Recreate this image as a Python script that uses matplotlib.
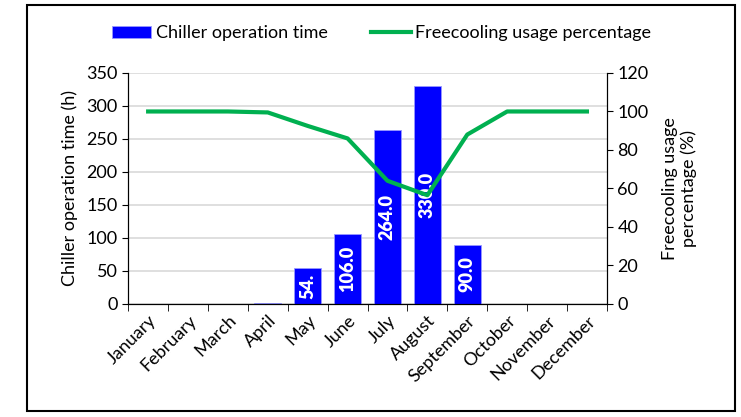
import numpy as np
import matplotlib; matplotlib.use("Agg")
import matplotlib.pyplot as plt
from matplotlib.patches import Rectangle

months = ["January", "February", "March", "April", "May", "June", "July",
          "August", "September", "October", "November", "December"]
chiller_h = [0, 0, 0, 2, 54, 106, 264, 330, 90, 0, 0, 0]
freecool_pct = [100, 100, 100, 99.5, 92.5, 86, 64, 56.5, 88, 100, 100, 100]
bar_labels = ["", "", "", "", "54.", "106.0", "264.0", "330.0", "90.0", "", "", ""]

plt.rcParams["font.family"] = ["Lato", "DejaVu Sans"]
FS = 13

fig = plt.figure(figsize=(7.41, 4.17), dpi=100)
ax = fig.add_axes([0.173, 0.271, 0.646, 0.554])
x = np.arange(len(months))

ax.set_axisbelow(True)
ax.yaxis.grid(True, color="#d9d9d9", lw=1.2)
bars = ax.bar(x, chiller_h, width=0.68, color="#0000ff", edgecolor="#9999ff", lw=0.6,
              label="Chiller operation time", zorder=2)
for xi, v, lab in zip(x, chiller_h, bar_labels):
    if lab:
        ax.text(xi, v / 2, lab, rotation=90, ha="center", va="center", color="white",
                fontsize=FS, fontweight="heavy", zorder=3)

ax.set_xlim(-0.5, 11.5)
ax.set_ylim(0, 350)
ax.set_yticks(range(0, 351, 50))
ax.set_xticks(x)
ax.set_xticklabels(months, rotation=45, ha="right", rotation_mode="anchor")
ax.set_xticks(np.arange(-0.5, 12, 1), minor=True)
ax.tick_params(axis="x", which="major", length=0, pad=6, labelsize=FS)
ax.tick_params(axis="x", which="minor", length=5, direction="out")
ax.tick_params(axis="y", length=4, labelsize=FS)
ax.set_ylabel("Chiller operation time (h)", fontsize=FS, labelpad=6)
ax.spines["top"].set_visible(False)

ax2 = ax.twinx()
line, = ax2.plot(x, freecool_pct, color="#00b050", lw=3, label="Freecooling usage percentage",
                 zorder=4)
ax2.set_ylim(0, 120)
ax2.set_yticks(range(0, 121, 20))
ax2.tick_params(axis="y", length=4, labelsize=FS)
ax2.set_ylabel("Freecooling usage\npercentage (%)", fontsize=FS, linespacing=1.15, labelpad=10)
ax2.spines["top"].set_visible(False)

fig.legend(handles=[bars, line], loc="center", bbox_to_anchor=(0.515, 0.92), ncol=2,
           frameon=False, fontsize=FS, handlelength=2.2, handletextpad=0.25, columnspacing=2.4)

fig.patches.append(Rectangle((0.036, 0.015), 0.956, 0.972, transform=fig.transFigure,
                             fill=False, ec="black", lw=1.5))

fig.savefig("out.png", dpi=100)
